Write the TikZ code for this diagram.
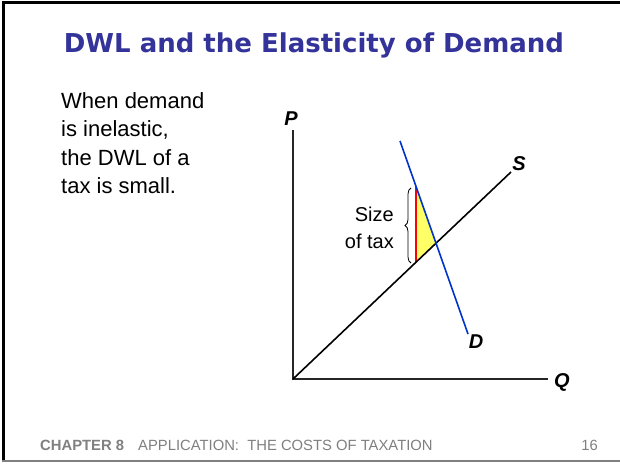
\documentclass[tikz,border=0pt]{standalone}
\usepackage{fontspec}
\setmainfont{Liberation Sans}
\newfontfamily\titlefont{DejaVu Sans}
\usetikzlibrary{decorations.pathreplacing}
\definecolor{titleblue}{RGB}{51,51,153}
\definecolor{demblue}{RGB}{0,51,204}
\definecolor{dwlyellow}{RGB}{255,255,102}
\definecolor{footgray}{RGB}{128,128,128}
\tikzset{
  axis/.style={line width=1.3pt, black!85},
  supply/.style={line width=1.6pt, black},
  demand/.style={line width=1.6pt, demblue},
  curvelabel/.style={font=\fontsize{20}{24}\selectfont\bfseries\itshape, inner sep=0pt},
  bodytext/.style={font=\fontsize{22}{28.5}\selectfont, inner sep=0pt, align=left},
  foot/.style={font=\fontsize{14.8}{17}\selectfont, text=footgray, inner sep=0pt}
}
\begin{document}
\begin{tikzpicture}[x=1pt,y=-1pt]
\useasboundingbox (0,0) rectangle (620,465);
\fill[white] (0,0) rectangle (620,465);
% frame
\draw[line width=3pt, black] (3,462) -- (3,3) -- (620,3);
\draw[line width=2pt, footgray] (2,461) -- (620,461);
% title
\node[font=\titlefont\bfseries\fontsize{26}{30}\selectfont, text=titleblue, inner sep=0pt] (title) at (314,45) {DWL and the Elasticity of Demand};
% body text
\node[bodytext, anchor=north west] (txt) at (61,92) {When demand\\is inelastic,\\the DWL of a\\tax is small.};
% axes
\coordinate (O) at (293,379);
\coordinate (Ptop) at (293,130);
\coordinate (Qend) at (548,379);
\draw[axis] (Ptop) -- (O) -- (Qend);
\node[curvelabel] (P) at (291,119) {P};
\node[curvelabel] (Q) at (562,382) {Q};
% curves
\coordinate (S2) at (511,172);
\coordinate (D1) at (400,141);
\coordinate (D2) at (468,334);
\coordinate (Ttop) at (416,186.4);
\coordinate (Tbot) at (416,262);
\coordinate (E) at (436,243);
\fill[dwlyellow] (Ttop) -- (E) -- (Tbot) -- cycle;
\draw[line width=1.5pt, red] (Ttop) -- (Tbot);
\draw[supply] (O) -- (S2);
\draw[demand] (D1) -- (D2);
\node[curvelabel] (S) at (519,164) {S};
\node[curvelabel] (D) at (476,342) {D};
% brace
\draw[decorate, decoration={brace, amplitude=6pt}, line width=0.8pt] (411,263) -- (411,188);
\node[bodytext, align=right, anchor=east, font=\fontsize{20}{27.5}\selectfont] (size) at (394,228) {Size\\of tax};
% footer
\node[foot, font=\fontsize{14.8}{17}\selectfont\bfseries, anchor=base west] (ch) at (40,450) {CHAPTER 8};
\node[foot, anchor=base west] (app) at (138,450) {APPLICATION:\ \ THE COSTS OF TAXATION};
\node[foot, anchor=base east] (pg) at (598,450) {16};
\end{tikzpicture}
\end{document}
